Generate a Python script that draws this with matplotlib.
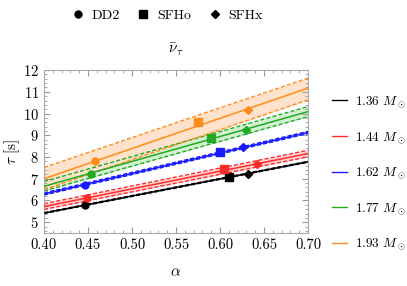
import matplotlib
matplotlib.use("Agg")
from matplotlib import pyplot as plt
from matplotlib.ticker import MultipleLocator, FormatStrFormatter
from matplotlib.lines import Line2D
import numpy as np

plt.rcParams['font.family'] = 'cmr10'
plt.rcParams['mathtext.fontset'] = 'cm'
plt.rcParams['axes.formatter.use_mathtext'] = True

# values
alpha_ends = [0.40, 0.70]
masses = ['1.36', '1.44', '1.62', '1.77', '1.93']
tau_mid = [[5.42, 7.78], [5.72, 8.16], [6.30, 9.13], [6.65, 10.09], [7.00, 11.17]]
tau_lo = [[5.40, 7.76], [5.59, 8.01], [6.25, 9.08], [6.44, 9.86], [6.50, 10.63]]
tau_hi = [[5.44, 7.80], [5.85, 8.31], [6.35, 9.18], [6.87, 10.32], [7.52, 11.63]]

dd2_alpha = [0.447, 0.449, 0.447, 0.453, 0.458]
dd2_tau = [5.80, 6.11, 6.69, 7.24, 7.80]
sfho_alpha = [0.610, 0.604, 0.600, 0.590, 0.575]
sfho_tau = [7.08, 7.47, 8.24, 8.89, 9.63]
sfhx_alpha = [0.632, 0.642, 0.626, 0.630, 0.632]
sfhx_tau = [7.24, 7.70, 8.47, 9.24, 10.14]

colors = ['black', '#ff2a2a', '#1a1aff', '#22aa22', '#ff8c1a']
fills = ['#e6e6e6', '#ffd4d4', '#d4d4ff', '#d2f0d2', '#ffe2cc']

fig = plt.figure(figsize=(4.07, 2.86), dpi=100)
ax = fig.add_axes([0.108, 0.185, 0.649, 0.570])

for i in range(len(masses)):
    c = colors[i]
    ax.fill_between(alpha_ends, tau_lo[i], tau_hi[i], color=fills[i], lw=0, zorder=1)
    ax.plot(alpha_ends, tau_lo[i], color=c, ls=(0, (3, 1.5)), lw=1.0, zorder=2)
    ax.plot(alpha_ends, tau_hi[i], color=c, ls=(0, (3, 1.5)), lw=1.0, zorder=2)
    ax.plot(alpha_ends, tau_mid[i], color=c, lw=1.1, zorder=3)
    ax.plot(dd2_alpha[i], dd2_tau[i], 'o', color=c, ms=5, zorder=4)
    ax.plot(sfho_alpha[i], sfho_tau[i], 's', color=c, ms=5.5, zorder=4)
    ax.plot(sfhx_alpha[i], sfhx_tau[i], 'D', color=c, ms=4.5, zorder=4)

ax.set_xlim(0.40, 0.70)
ax.set_ylim(4.5, 12)
ax.xaxis.set_major_locator(MultipleLocator(0.05))
ax.xaxis.set_minor_locator(MultipleLocator(0.01))
ax.yaxis.set_major_locator(MultipleLocator(1))
ax.yaxis.set_minor_locator(MultipleLocator(0.2))
ax.xaxis.set_major_formatter(FormatStrFormatter('%.2f'))
ax.tick_params(which='both', direction='in', top=True, right=True, color='#999999', labelsize=10.5)
ax.tick_params(which='major', length=4)
ax.tick_params(which='minor', length=2)
for s in ax.spines.values():
    s.set_color('#aaaaaa')
    s.set_linewidth(0.8)

ax.set_xlabel(r'$\alpha$', fontsize=11, labelpad=10)
ax.set_ylabel(r'$\tau\ [\mathrm{s}]$', fontsize=11)
ax.yaxis.set_label_coords(-0.085, 0.5)
ax.set_title(r'$\bar{\nu}_\tau$', fontsize=11, pad=12)

# legend for masses on the right
mass_handles = [Line2D([], [], color=colors[i], lw=1.0) for i in range(len(masses))]
fig.legend(mass_handles, [m + r' $M_\odot$' for m in masses], loc='center left',
           bbox_to_anchor=(0.80, 0.394), frameon=False, fontsize=9.5,
           handlelength=1.1, labelspacing=1.5, handletextpad=0.6, borderpad=0)

# legend for EoS on top
eos_handles = [Line2D([], [], color='black', marker=m, ls='', ms=s)
               for m, s in zip(['o', 's', 'D'], [5, 5.5, 4.5])]
fig.legend(eos_handles, ['DD2', 'SFHo', 'SFHx'], loc='center', ncol=3,
           bbox_to_anchor=(0.41, 0.945), frameon=False, fontsize=10,
           handlelength=1.0, handletextpad=0.5, columnspacing=1.2)

fig.savefig('out.png', dpi=100)
